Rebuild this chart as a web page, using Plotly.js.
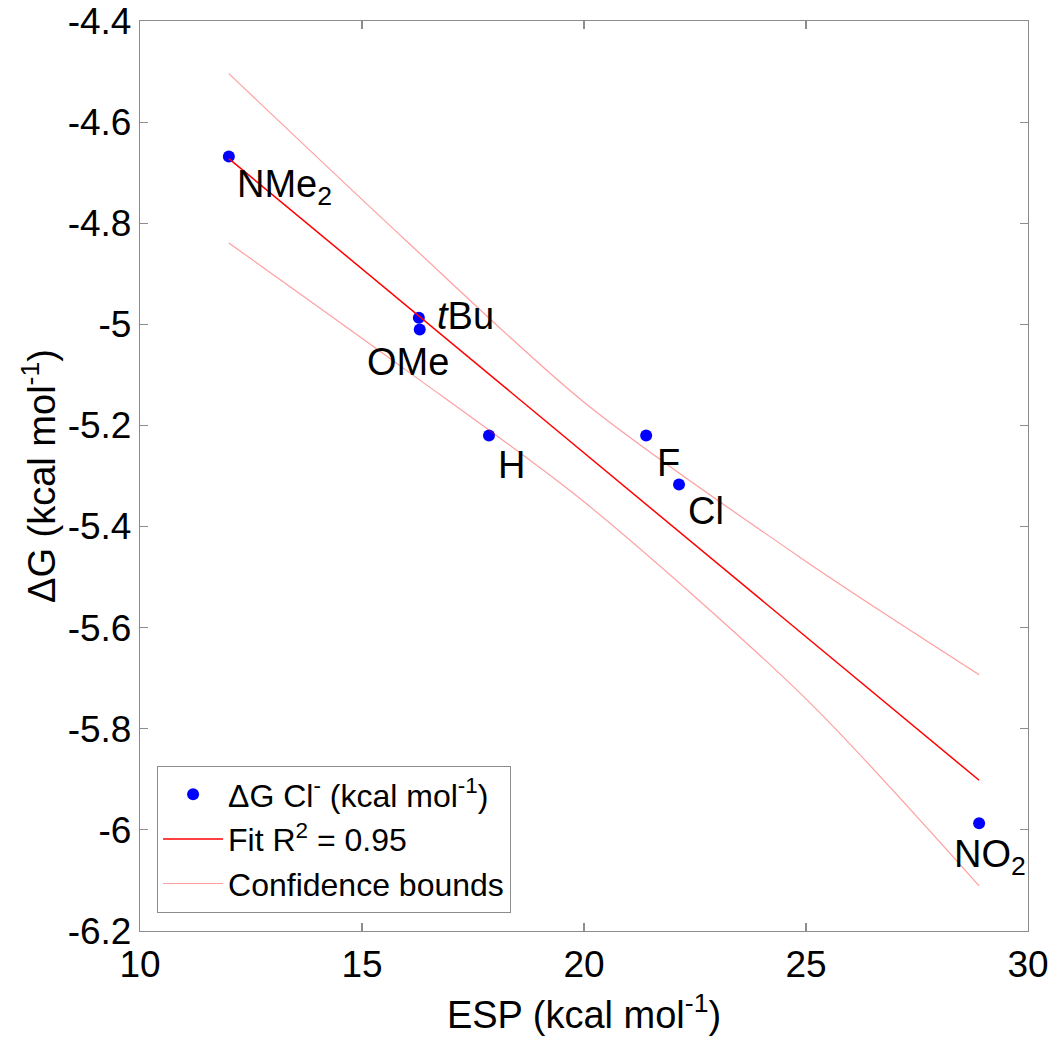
<!DOCTYPE html>
<html>
<head>
<meta charset="utf-8">
<script src="https://cdn.plot.ly/plotly-3.0.1.min.js"></script>
<style>
  html, body { margin: 0; padding: 0; background: #fff; }
  #chart { width: 1050px; height: 1040px; }
</style>
</head>
<body>
<div id="chart"></div>
<script>
// Data points (ESP vs ΔG)
const labels = ["NMe<sub>2</sub>", "<i>t</i>Bu", "OMe", "H", "F", "Cl", "NO<sub>2</sub>"];
const espValues = [12.0, 16.28, 16.3, 17.86, 21.4, 22.14, 28.9];
const dgValues = [-4.668, -4.987, -5.01, -5.22, -5.22, -5.317, -5.987];

// Fit line
const fitX = [12.0, 28.9];
const fitY = [-4.672, -5.902];

// Confidence bounds
const boundX = [12.0, 16.0, 20.0, 25.0, 28.9];
const upperY = [-4.504, -4.835, -5.154, -5.469, -5.693];
const lowerY = [-4.839, -5.091, -5.351, -5.741, -6.111];

// Tick labels
const xTickVals = [10, 15, 20, 25, 30];
const xTickText = ["10", "15", "20", "25", "30"];
const yTickVals = [-6.2, -6.0, -5.8, -5.6, -5.4, -5.2, -5.0, -4.8, -4.6, -4.4];
const yTickText = ["-6.2", "-6", "-5.8", "-5.6", "-5.4", "-5.2", "-5", "-4.8", "-4.6", "-4.4"];

// label placement (pixel offsets, style only)
const labelStyle = [
  {xanchor: "left", xshift: 6, yshift: -30},
  {xanchor: "left", xshift: 16, yshift: 2},
  {xanchor: "center", xshift: -12, yshift: -33},
  {xanchor: "left", xshift: 7, yshift: -29},
  {xanchor: "left", xshift: 9, yshift: -27},
  {xanchor: "left", xshift: 7, yshift: -26},
  {xanchor: "left", xshift: -27, yshift: -34}
];

const FONT = "Liberation Sans, Arial, Helvetica, sans-serif";
const boundColor = "rgba(255,0,0,0.38)";

const traces = [
  {
    x: espValues, y: dgValues, type: "scatter", mode: "markers",
    name: "ΔG Cl<sup>-</sup> (kcal mol<sup>-1</sup>)",
    marker: {color: "#0000ff", size: 12}
  },
  {
    x: fitX, y: fitY, type: "scatter", mode: "lines",
    name: "Fit R<sup>2</sup> = 0.95",
    line: {color: "#ff0000", width: 1.5}
  },
  {
    x: boundX, y: upperY, type: "scatter", mode: "lines",
    name: "Confidence bounds",
    line: {color: boundColor, width: 1.2, shape: "spline", smoothing: 0.8}
  },
  {
    x: boundX, y: lowerY, type: "scatter", mode: "lines",
    name: "Confidence bounds", showlegend: false,
    line: {color: boundColor, width: 1.2, shape: "spline", smoothing: 0.8}
  }
];

const annotations = labels.map((t, i) => ({
  x: espValues[i], y: dgValues[i], xref: "x", yref: "y",
  text: t, showarrow: false,
  xanchor: labelStyle[i].xanchor, yanchor: "middle",
  xshift: labelStyle[i].xshift, yshift: labelStyle[i].yshift,
  font: {family: FONT, size: 38, color: "#000"}
}));

const axisCommon = {
  showgrid: false, zeroline: false,
  showline: true, linecolor: "#8c8c8c", linewidth: 1.2,
  mirror: "allticks", ticks: "inside", ticklen: 8, tickwidth: 1.2, tickcolor: "#8c8c8c",
  tickfont: {family: FONT, size: 37, color: "#000"},
  ticklabeloverflow: "allow"
};

const layout = {
  width: 1050, height: 1040,
  margin: {l: 140, r: 22, t: 21, b: 109},
  paper_bgcolor: "#fff", plot_bgcolor: "#fff",
  showlegend: true,
  xaxis: Object.assign({}, axisCommon, {
    range: [9.999, 30.001], tickvals: xTickVals, ticktext: xTickText,
    title: {text: "ESP (kcal mol<sup>-1</sup>)", font: {family: FONT, size: 38, color: "#000"}, standoff: 17}
  }),
  yaxis: Object.assign({}, axisCommon, {
    range: [-6.2002, -4.3998], tickvals: yTickVals, ticktext: yTickText,
    title: {text: "ΔG (kcal mol<sup>-1</sup>)", font: {family: FONT, size: 38, color: "#000"}, standoff: 0}
  }),
  legend: {
    x: 0.019, y: 0.02, xanchor: "left", yanchor: "bottom",
    bgcolor: "#fff", bordercolor: "#8c8c8c", borderwidth: 1.2,
    font: {family: FONT, size: 32, color: "#000"},
    tracegroupgap: 0, itemwidth: 60
  },
  annotations: annotations
};

Plotly.newPlot("chart", traces, layout, {staticPlot: true, displayModeBar: false});
</script>
</body>
</html>
